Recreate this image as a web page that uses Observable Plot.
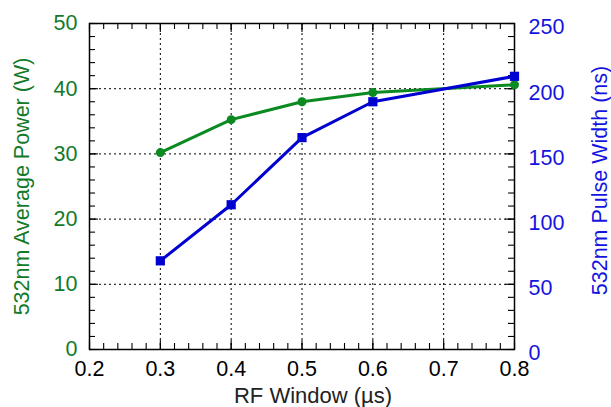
<!DOCTYPE html>
<html>
<head>
<meta charset="utf-8">
<script src="https://cdn.jsdelivr.net/npm/d3@7"></script>
<script src="https://cdn.jsdelivr.net/npm/@observablehq/plot@0.6"></script>
<style>
  html, body { margin: 0; padding: 0; background: #fff; }
  #chart { position: relative; width: 611px; height: 407px; }
  .ylab { position: absolute; font-family: "Liberation Sans", Arial, sans-serif; font-size: 21.5px; white-space: nowrap; transform-origin: center center; }
</style>
</head>
<body>
<div id="chart"></div>
<script>
// Data
const rfWindow = [0.3, 0.4, 0.5, 0.6, 0.8];            // µs
const avgPower = [30.2, 35.25, 38.0, 39.4, 40.6];       // W
const pulseWidth = [68, 111, 162.5, 190, 209.5];        // ns
const xTicks = [0.2, 0.3, 0.4, 0.5, 0.6, 0.7, 0.8];
const yLeftTicks = [0, 10, 20, 30, 40, 50];
const yRightTicks = [0, 50, 100, 150, 200, 250];
const xMinor = d3.range(0, 31).map(i => +(0.2 + i * 0.02).toFixed(2));
const yMinor = d3.range(0, 26).map(i => i * 2);
const xLabel = "RF Window (µs)";
const yLeftLabel = "532nm Average Power (W)";
const yRightLabel = "532nm Pulse Width (ns)";

const green = "#0a8a20";
const greenText = "#137a2a";
const blue = "#0000d0";
const blueText = "#1414e0";
const ratio = 5; // right axis (ns) per left axis (W)

const powerData = rfWindow.map((x, i) => ({x, y: avgPower[i]}));
const pulseData = rfWindow.map((x, i) => ({x, y: pulseWidth[i] / ratio}));

const font = "'Liberation Sans', Arial, sans-serif";
const W = 611, H = 407, mL = 89, mR = 97, mT = 23, mB = 58;
const plotW = W - mL - mR, plotH = H - mT - mB;
const minorLen = 6, majorLen = 9;

function xTickMarks(values, len) {
  return [
    Plot.ruleX(values, { x: d => d, stroke: "#000", strokeWidth: 1.1, insetTop: plotH - len }),
    Plot.ruleX(values, { x: d => d, stroke: "#000", strokeWidth: 1.1, insetBottom: plotH - len })
  ];
}
function yTickMarks(values, len) {
  return [
    Plot.ruleY(values, { y: d => d, stroke: "#000", strokeWidth: 1.1, insetRight: plotW - len }),
    Plot.ruleY(values, { y: d => d, stroke: "#000", strokeWidth: 1.1, insetLeft: plotW - len })
  ];
}

const plot = Plot.plot({
  width: W, height: H, marginLeft: mL, marginRight: mR, marginTop: mT, marginBottom: mB,
  style: { fontFamily: font, fontSize: "21px", background: "white", overflow: "visible" },
  x: { domain: [0.2, 0.8] },
  y: { domain: [0, 50] },
  marks: [
    // grid
    Plot.gridX(xTicks.slice(1, -1), { stroke: "#000", strokeOpacity: 1, strokeDasharray: "2,3", strokeWidth: 1 }),
    Plot.gridY(yLeftTicks.slice(1, -1), { stroke: "#000", strokeOpacity: 1, strokeDasharray: "2,3", strokeWidth: 1 }),
    // minor & major ticks, inward on all four sides
    ...xTickMarks(xMinor, minorLen),
    ...yTickMarks(yMinor, minorLen),
    ...xTickMarks(xTicks, majorLen),
    ...yTickMarks(yLeftTicks, majorLen),
    // tick labels
    Plot.axisX(xTicks, { anchor: "bottom", tickSize: 0, tickPadding: 11, tickFormat: d => d.toFixed(1), label: null, fill: "#000", fontSize: 21.5 }),
    Plot.axisY(yLeftTicks, { anchor: "left", tickSize: 0, tickPadding: 12, tickFormat: d => String(d), label: null, fill: greenText, fontSize: 21.5 }),
    Plot.axisY(yRightTicks.map(v => v / ratio), { anchor: "right", tickSize: 0, tickPadding: 14, dy: 4, tickFormat: d => String(Math.round(d * ratio)), label: null, fill: blueText, fontSize: 21.5 }),
    Plot.frame({ stroke: "#000", strokeWidth: 1.5 }),
    // series
    Plot.line(powerData, { x: "x", y: "y", stroke: green, strokeWidth: 3 }),
    Plot.dot(powerData, { x: "x", y: "y", r: 4.5, fill: green, stroke: "none" }),
    Plot.line(pulseData, { x: "x", y: "y", stroke: blue, strokeWidth: 3 }),
    Plot.dot(pulseData, { x: "x", y: "y", symbol: "square", r: 5.2, fill: blue, stroke: "none" }),
    // x axis title
    Plot.text([xLabel], { frameAnchor: "bottom", dy: 46, dx: 11, text: d => d, fontSize: 22, fill: "#222", lineAnchor: "middle" })
  ]
});

const chart = document.getElementById("chart");
chart.appendChild(plot);

function addYLabel(text, color, cx, cy) {
  const el = document.createElement("div");
  el.className = "ylab";
  el.textContent = text;
  el.style.color = color;
  chart.appendChild(el);
  const w = el.offsetWidth, h = el.offsetHeight;
  el.style.left = (cx - w / 2) + "px";
  el.style.top = (cy - h / 2) + "px";
  el.style.transform = "rotate(-90deg)";
}
addYLabel(yLeftLabel, greenText, 23, 186);
addYLabel(yRightLabel, blueText, 600, 180);
</script>
</body>
</html>
